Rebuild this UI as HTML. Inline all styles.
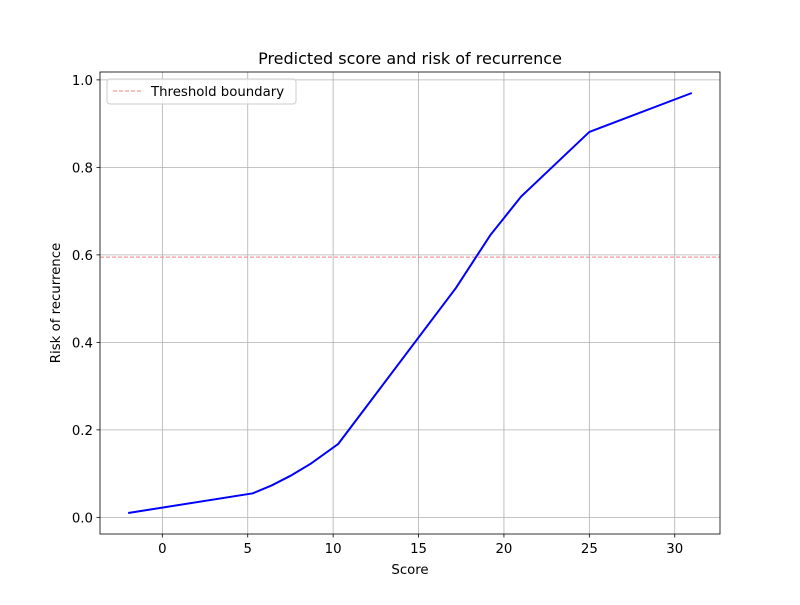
<!DOCTYPE html>
<html><head><meta charset="utf-8"><style>
body{margin:0;background:#fff;font-family:"Liberation Sans","DejaVu Sans",sans-serif;}
svg text{font-family:"DejaVu Sans","Liberation Sans",sans-serif;}
</style></head><body>
<svg id="chart" width="800" height="600" xmlns="http://www.w3.org/2000/svg"></svg>
<script>
const scores=[-2,5.3,6.4,7.5,8.7,10.3,17.2,19.2,21,25,31];
const risks=[0.01,0.055,0.073,0.095,0.123,0.168,0.525,0.645,0.733,0.881,0.97];
const threshold=[0.595];
const xTicks=[0,5,10,15,20,25,30];
const yTicks=[0.0,0.2,0.4,0.6,0.8,1.0];
const L=100,R=720,T=72,B=534;
const xmin=-3.65,xmax=32.65,ymin=-0.038,ymax=1.018;
const X=v=>L+(v-xmin)/(xmax-xmin)*(R-L);
const Y=v=>B-(v-ymin)/(ymax-ymin)*(B-T);
const svg=document.getElementById('chart');
const NS='http://www.w3.org/2000/svg';
function mk(tag,attrs,parent){const e=document.createElementNS(NS,tag);for(const k in attrs)e.setAttribute(k,attrs[k]);(parent||svg).appendChild(e);return e;}
xTicks.forEach(t=>{
 const g=mk('line',{x1:X(t),x2:X(t),y1:T,y2:B,stroke:'#b0b0b0','stroke-width':0.8});
 
 
 mk('line',{x1:X(t),x2:X(t),y1:B,y2:B+3.5,stroke:'#000','stroke-width':0.8});
 const tx=mk('text',{x:X(t),y:B+19,'text-anchor':'middle','font-size':13.3});
 tx.textContent=t;
 
 
});
yTicks.forEach(t=>{
 const g=mk('line',{x1:L,x2:R,y1:Y(t),y2:Y(t),stroke:'#b0b0b0','stroke-width':0.8});
 
 
 mk('line',{x1:L-3.5,x2:L,y1:Y(t),y2:Y(t),stroke:'#000','stroke-width':0.8});
 const tx=mk('text',{x:L-7,y:Y(t)+5,'text-anchor':'end','font-size':13.3});
 tx.textContent=t.toFixed(1);
 
 
});
const th=mk('line',{x1:L,x2:R,y1:Y(threshold[0]),y2:Y(threshold[0]),stroke:'#f08080','stroke-width':1,'stroke-dasharray':'4,2'});


const p=mk('polyline',{points:scores.map((s,i)=>X(s)+','+Y(risks[i])).join(' '),fill:'none',stroke:'#0000ff','stroke-width':2});


const fr=mk('rect',{x:L,y:T,width:R-L,height:B-T,fill:'none',stroke:'#000','stroke-width':0.8});


const title=mk('text',{x:(L+R)/2,y:64,'text-anchor':'middle','font-size':16});
title.textContent='Predicted score and risk of recurrence';


const xl=mk('text',{x:(L+R)/2,y:574,'text-anchor':'middle','font-size':13.3});
xl.textContent='Score';


const yl=mk('text',{x:0,y:0,'text-anchor':'middle','font-size':13.3,transform:'translate(60,'+((T+B)/2)+') rotate(-90)'});
yl.textContent='Risk of recurrence';


const lg=mk('g',{});


mk('rect',{x:107,y:79,width:189,height:25,rx:3,fill:'#fff','fill-opacity':0.8,stroke:'#ccc','stroke-width':1},lg);
mk('line',{x1:113,x2:141,y1:91,y2:91,stroke:'#f08080','stroke-width':1,'stroke-dasharray':'4,2'},lg);
const lt=mk('text',{x:151,y:96,'font-size':13.3},lg);
lt.textContent='Threshold boundary';


</script>
</body></html>
